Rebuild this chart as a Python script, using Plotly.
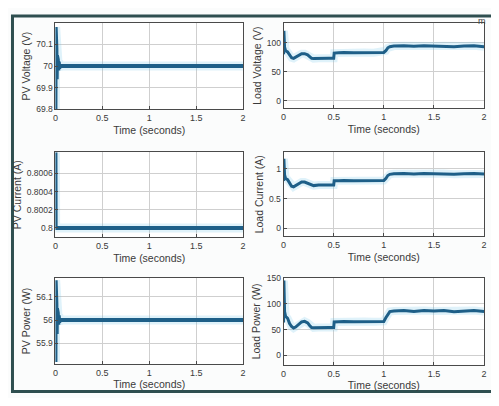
import plotly.graph_objects as go

# ---------------- data ----------------
pv_t = [0, 0.002, 0.004, 0.006, 0.008, 0.01, 0.013, 0.016, 0.02, 0.025, 0.03, 0.035, 0.04, 0.05, 0.06, 2.0]
pv_voltage = [69.8, 70.18, 69.83, 70.14, 69.9, 70.08, 69.94, 70.05, 69.96, 70.03, 69.98, 70.02, 69.99, 70.0, 70.0, 70.0]
pv_power = [55.82, 56.17, 55.85, 56.12, 55.9, 56.07, 55.94, 56.05, 55.96, 56.03, 55.98, 56.02, 55.99, 56.0, 56.0, 56.0]

pvc_t = [0, 0.001, 0.002, 2.0]
pv_current = [0.80083, 0.8003, 0.8, 0.8]

load_t = [0, 0.003, 0.01, 0.02, 0.04, 0.06, 0.08, 0.1, 0.12, 0.15, 0.18, 0.21, 0.24, 0.26,
          0.28, 0.3, 0.35, 0.4, 0.45, 0.5, 0.505, 0.55, 0.6, 0.7, 0.8, 0.9, 0.995, 1.0,
          1.02, 1.04, 1.06, 1.1, 1.2, 1.3, 1.4, 1.5, 1.6, 1.7, 1.8, 1.9, 2.0]
load_voltage = [80, 120, 92, 86, 84, 78, 74, 73, 75, 79, 81, 81, 79, 76,
                73, 72.5, 73, 72.8, 73, 73, 82, 82.5, 83, 82.5, 83, 82.6, 83, 83,
                86, 91, 93, 94, 94.5, 93.5, 94.5, 94, 94.5, 93, 94, 94.5, 93]
load_current = [0.8, 1.17, 0.9, 0.84, 0.82, 0.76, 0.71, 0.7, 0.72, 0.76, 0.78, 0.78, 0.76, 0.74,
                0.73, 0.72, 0.73, 0.725, 0.73, 0.73, 0.8, 0.8, 0.805, 0.8, 0.805, 0.8, 0.805, 0.805,
                0.84, 0.89, 0.91, 0.92, 0.925, 0.915, 0.925, 0.92, 0.925, 0.91, 0.92, 0.925, 0.915]
load_power = [64, 145, 85, 76, 72, 62, 56, 53, 55, 61, 65, 66, 63, 58,
              54, 53.5, 54, 53.8, 54, 54, 65, 65.5, 66, 65.5, 66, 65.5, 66, 66,
              73, 80, 85, 86, 87, 85, 87, 86, 87, 84.5, 86, 87, 85]

x_ticks = [0, 0.5, 1, 1.5, 2]
x_tick_text = ["0", "0.5", "1", "1.5", "2"]

# page body has an 8px margin: the figure is sized to fit the window exactly
OFF = 8
W, H = 499 - 2 * OFF, 406 - 2 * OFF

def px_dom_x(a, b):
    return [(a - OFF) / W, (b - OFF) / W]

def px_dom_y(top, bot):
    return [1 - (bot - OFF) / H, 1 - (top - OFF) / H]

panels = [
    # (time, values, ytitle, yrange, tickvals, ticktext, xdom, ydom, width)
    (pv_t, pv_voltage, "PV Voltage (V)", [69.8, 70.2], [69.8, 69.9, 70, 70.1],
     ["69.8", "69.9", "70", "70.1"], px_dom_x(53, 243), px_dom_y(18, 107), 4),
    (load_t, load_voltage, "Load Voltage (V)", [-13, 134], [0, 50, 100],
     ["0", "50", "100"], px_dom_x(284, 487), px_dom_y(18, 106), 3),
    (pvc_t, pv_current, "PV Current (A)", [0.7999, 0.80083], [0.8, 0.8002, 0.8004, 0.8006],
     ["0.8", "0.8002", "0.8004", "0.8006"], px_dom_x(53, 243), px_dom_y(151, 238), 4),
    (load_t, load_current, "Load Current (A)", [-0.13, 1.28], [0, 0.5, 1],
     ["0", "0.5", "1"], px_dom_x(284, 487), px_dom_y(151, 237), 3),
    (pv_t, pv_power, "PV Power (W)", [55.8125, 56.18], [55.9, 56, 56.1],
     ["55.9", "56", "56.1"], px_dom_x(53, 243), px_dom_y(280, 368), 4),
    (load_t, load_power, "Load Power (W)", [-18, 150], [0, 50, 100, 150],
     ["0", "50", "100", "150"], px_dom_x(284, 487), px_dom_y(280, 369), 3),
]

fig = go.Figure()
layout = dict(
    width=W, height=H,
    margin=dict(l=0, r=0, t=0, b=0),
    paper_bgcolor="#fbfcfc",
    plot_bgcolor="#ffffff",
    showlegend=False,
    font=dict(family="Liberation Sans, Arial, sans-serif", color="#3a3a3a"),
)

for i, (t, v, ytitle, yr, tv, tt, xd, yd, lw) in enumerate(panels):
    n = i + 1
    xa = "x" if n == 1 else f"x{n}"
    ya = "y" if n == 1 else f"y{n}"
    fig.add_trace(go.Scatter(x=t, y=v, mode="lines", xaxis=xa, yaxis=ya,
                             line=dict(color="rgba(110,195,230,0.22)", width=lw + 5),
                             hoverinfo="skip"))
    fig.add_trace(go.Scatter(x=t, y=v, mode="lines", xaxis=xa, yaxis=ya,
                             line=dict(color="#1e5f88", width=lw)))
    xkey = "xaxis" if n == 1 else f"xaxis{n}"
    ykey = "yaxis" if n == 1 else f"yaxis{n}"
    layout[xkey] = dict(
        domain=xd, anchor=ya, range=[0, 2], tickvals=x_ticks, ticktext=x_tick_text,
        showgrid=True, gridcolor="#cfcfcf", gridwidth=1, zeroline=False,
        showline=True, linecolor="#4a4a4a", linewidth=1, mirror=True,
        ticks="inside", ticklen=3, tickcolor="#4a4a4a",
        tickfont=dict(size=9, color="#3a3a3a"),
        title=dict(text="Time (seconds)", font=dict(size=10.5, color="#3a3a3a"), standoff=4),
    )
    layout[ykey] = dict(
        domain=yd, anchor=xa, range=yr, tickvals=tv, ticktext=tt,
        showgrid=True, gridcolor="#cfcfcf", gridwidth=1, zeroline=False,
        showline=True, linecolor="#4a4a4a", linewidth=1, mirror=True,
        ticks="inside", ticklen=3, tickcolor="#4a4a4a",
        tickfont=dict(size=8.5, color="#3a3a3a"),
        title=dict(text=ytitle, font=dict(size=10.5, color="#3a3a3a"), standoff=3),
    )

layout["shapes"] = [
    dict(type="rect", xref="paper", yref="paper",
         x0=1.5 / W, x1=1.2, y0=1.5 / H, y1=1 - (11 - OFF) / H,
         line=dict(color="#2f4f50", width=3), fillcolor="rgba(0,0,0,0)", layer="below"),
]
layout["annotations"] = [
    dict(text="m", x=1.0, y=1 - (9 - OFF) / H, xref="paper", yref="paper",
         showarrow=False, font=dict(size=9, color="#444"), xanchor="right", yanchor="top"),
]

fig.update_layout(**layout)
fig.write_html("out.html")
